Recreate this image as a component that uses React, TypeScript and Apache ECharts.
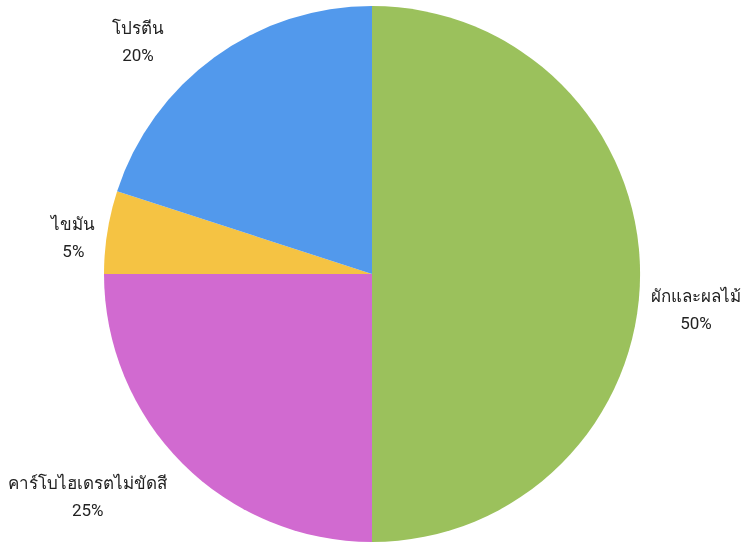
import React, { useEffect, useRef } from "react";
import * as echarts from "echarts";

const categories = ["ผักและผลไม้", "คาร์โบไฮเดรตไม่ขัดสี", "ไขมัน", "โปรตีน"];
const values = [50, 25, 5, 20];
const colors = ["#9bc15c", "#d16ad0", "#f5c343", "#5299ec"];
// label nudges (dx, dy) relative to ECharts' default outside placement
const labelShift: [number, number][] = [
  [0, 35],
  [-6, 29],
  [-1, 6],
  [-42, -11],
];

export default function App() {
  const ref = useRef<HTMLDivElement>(null);
  useEffect(() => {
    const chart = echarts.init(ref.current!, null, { renderer: "svg" });
    chart.setOption({
      animation: false,
      series: [
        {
          type: "pie",
          center: [372, 274],
          radius: 268,
          startAngle: 90,
          clockwise: true,
          data: categories.map((name, i) => ({
            name,
            value: values[i],
            itemStyle: { color: colors[i] },
          })),
          label: {
            show: true,
            position: "outside",
            formatter: "{b}\n{c}%",
            fontFamily: "Roboto, 'Noto Sans', sans-serif",
            fontSize: 17,
            lineHeight: 27,
            color: "#222",
            overflow: "none",
            edgeDistance: 0,
          },
          labelLine: { show: false, length: 6, length2: 0 },
          labelLayout: (p: any) => {
            const r = p.labelRect;
            const off = labelShift[p.dataIndex];
            return {
              x: r.x + r.width / 2 + off[0],
              y: r.y + r.height / 2 + off[1],
              align: "center",
              verticalAlign: "middle",
            };
          },
        },
      ],
    });
    return () => chart.dispose();
  }, []);
  return (
    <div
      ref={ref}
      style={{ position: "fixed", left: 0, top: 0, width: 750, height: 550 }}
    />
  );
}
